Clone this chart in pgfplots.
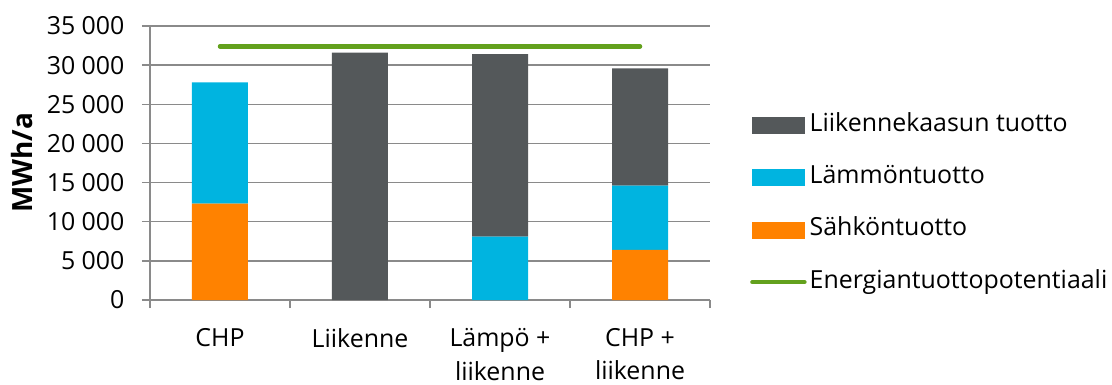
\documentclass[border=0pt]{standalone}
\usepackage{fontspec}
\setmainfont{Open Sans}
\usepackage{pgfplots}
\pgfplotsset{compat=1.18}

\definecolor{gasgray}{HTML}{54585A}
\definecolor{heatblue}{HTML}{00B4E0}
\definecolor{elecorange}{HTML}{FF8200}
\definecolor{potgreen}{HTML}{63A11D}
\definecolor{gridgray}{HTML}{8A8A8A}

% common geometry of the plot area
\pgfplotsset{chartbase/.style={
  scale only axis, width=560bp, height=274bp,
  xmin=-0.5, xmax=3.5, ymin=0, ymax=35000,
}}

\begin{document}
\begin{tikzpicture}[font=\fontsize{25}{36}\selectfont]
\begin{axis}[chartbase,
  ybar stacked, bar width=56bp,
  axis x line*=bottom, axis y line*=left,
  axis line style={gridgray, line width=1.3bp},
  ymajorgrids, grid style={gridgray, line width=1.3bp},
  tick align=outside, major tick length=8bp,
  tick style={gridgray, line width=1.3bp},
  ytick={0,5000,...,35000},
  scaled y ticks=false,
  yticklabel style={xshift=-14bp, /pgf/number format/.cd, 1000 sep={\ }, assume math mode=true},
  xtick={-0.5,0.5,1.5,2.5,3.5},
  xticklabels={CHP, Liikenne, {Lämpö +\\liikenne}, {CHP +\\liikenne}, {}},
  xticklabel style={align=center, xshift=70bp, yshift=-17bp, anchor=north,
    font=\fontsize{25}{33.5}\selectfont},
  ylabel={MWh/a},
  ylabel style={at={(axis description cs:-0.2286,0.5)}, anchor=center,
    font=\fontsize{28}{30}\selectfont\bfseries},
]
\addplot[fill=elecorange, draw=none] coordinates {(0,12300) (1,0) (2,0) (3,6400)};
\addplot[fill=heatblue, draw=none] coordinates {(0,15500) (1,0) (2,8100) (3,8200)};
\addplot[fill=gasgray, draw=none] coordinates {(0,0) (1,31600) (2,23300) (3,15000)};
\end{axis}

\begin{axis}[chartbase, hide axis,
  legend cell align=left,
  legend style={at={(axis description cs:1.0714,0.6898)}, anchor=north west,
    draw=none, fill=none, inner sep=0pt, row sep=24.3bp,
    nodes={inner sep=3bp, text height=17bp, text depth=5bp}},
]
\addlegendimage{legend image code/.code={\fill[gasgray] (0bp,-8bp) rectangle (52bp,8bp);}}
\addlegendentry{Liikennekaasun tuotto}
\addlegendimage{legend image code/.code={\fill[heatblue] (0bp,-8bp) rectangle (52bp,8bp);}}
\addlegendentry{Lämmöntuotto}
\addlegendimage{legend image code/.code={\fill[elecorange] (0bp,-8bp) rectangle (52bp,8bp);}}
\addlegendentry{Sähköntuotto}
\addplot[potgreen, line width=4.5bp, line cap=round,
  legend image code/.code={\draw[potgreen, line width=4.5bp, line cap=round] (0bp,0bp) -- (52bp,0bp);}]
  coordinates {(0,32400) (3,32400)};
\addlegendentry{Energiantuottopotentiaali}
\end{axis}

\pgfresetboundingbox
\path (-150bp,-85bp) rectangle (962bp,300bp);
\end{tikzpicture}
\end{document}
